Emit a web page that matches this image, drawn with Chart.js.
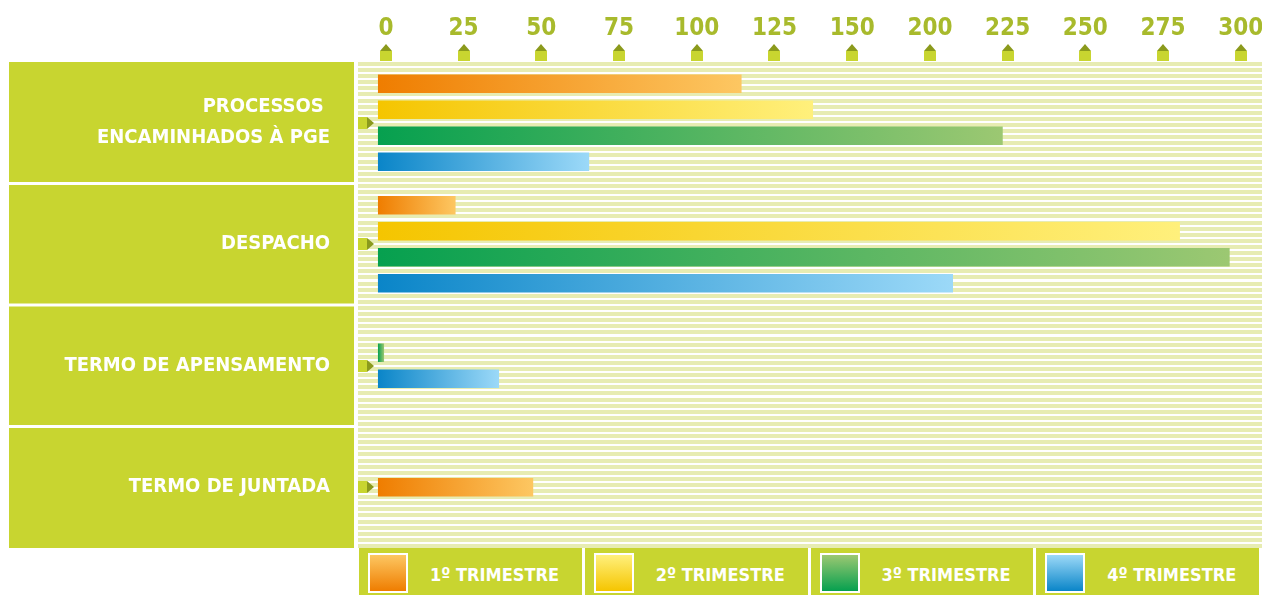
<!DOCTYPE html>
<html lang="pt">
<head>
<meta charset="utf-8">
<title>Processos por trimestre</title>
<script src="https://cdn.jsdelivr.net/npm/chart.js@4.4.0/dist/chart.umd.min.js"></script>
<style>
    html, body { margin: 0; padding: 0; background: #fff; overflow: hidden; }
    body {
        width: 1262px;
        height: 595px;
        position: relative;
        font-family: 'DejaVu Sans Condensed', 'DejaVu Sans', sans-serif;
    }
    #trimestreChart { position: absolute; left: 0; top: 0; display: block; }
    .legend {
        position: absolute;
        left: 359px;
        top: 548px;
        width: 900px;
        height: 47px;
        display: flex;
        gap: 3px;
    }
    .legend-item {
        flex: 1;
        background: #c8d530;
        display: flex;
        align-items: center;
        white-space: nowrap;
    }
    .swatch {
        box-sizing: border-box;
        width: 40px;
        height: 40px;
        border: 2px solid #fff;
        margin-left: 9px;
        margin-top: 3px;
        flex: none;
    }
    .legend-label {
        margin-left: 22px;
        margin-top: 5px;
        color: #fff;
        font-weight: bold;
        font-size: 18px;
    }
</style>
</head>
<body>
<canvas id="trimestreChart" width="1262" height="548"></canvas>
<div class="legend" id="legend"></div>

<script>
// --- data ---
const categories = [['PROCESSOS ', 'ENCAMINHADOS À PGE'], 'DESPACHO', 'TERMO DE APENSAMENTO', 'TERMO DE JUNTADA'];
const seriesNames = ['1º TRIMESTRE', '2º TRIMESTRE', '3º TRIMESTRE', '4º TRIMESTRE'];
const q1Values = [117, 25, null, 50];
const q2Values = [140, 258, null, null];
const q3Values = [201, 274, 2, null];
const q4Values = [68, 185, 39, null];
// the original axis skips 175
const tickLabels = ['0', '25', '50', '75', '100', '125', '150', '200', '225', '250', '275', '300'];
const TICK_STEP = 25;

// --- styling ---
const FONT = "'DejaVu Sans Condensed', 'DejaVu Sans', sans-serif";
const PANEL_COLOR = '#c8d530';
const MARKER_DARK = '#8b9a1c';
const STRIPE_COLOR = '#e7ecb2';
const TICK_COLOR = '#a8ba2c';
const LABEL_SHIFT = 8; // tick labels sit a little right of the bar origin
const seriesColors = [
    ['#ef7d00', '#fdc762'],
    ['#f5c500', '#fff07c'],
    ['#06a04f', '#9cc872'],
    ['#0a85c8', '#9cd9f8']
];
const seriesValues = [q1Values, q2Values, q3Values, q4Values];

/**
 * Horizontal gradient spanning each bar from its base to its end.
 */
function barGradient(colors) {
    return (ctx) => {
        const chart = ctx.chart;
        const xScale = chart.scales.x;
        if (!chart.chartArea || !xScale || ctx.raw == null) return colors[0];
        const x0 = xScale.getPixelForValue(0);
        const x1 = Math.max(xScale.getPixelForValue(ctx.raw), x0 + 1);
        const g = chart.ctx.createLinearGradient(x0, 0, x1, 0);
        g.addColorStop(0, colors[0]);
        g.addColorStop(1, colors[1]);
        return g;
    };
}

/**
 * Fixed axis box size, without the extra room Chart.js keeps for edge labels.
 */
function fixBox(prop, size) {
    return (scale) => {
        scale[prop] = size;
        scale.paddingLeft = scale.paddingRight = 0;
        scale.paddingTop = scale.paddingBottom = 0;
    };
}

/**
 * Label panels, striped plot background and the little axis markers.
 */
const decorPlugin = {
    id: 'decor',
    beforeDraw(chart) {
        const { ctx, chartArea, scales: { x, y } } = chart;
        const band = chartArea.height / categories.length;
        ctx.save();

        // left label panels
        ctx.fillStyle = PANEL_COLOR;
        categories.forEach((_, i) => {
            const c = y.getPixelForValue(i);
            const top = i === 0 ? chartArea.top : c - band / 2 + 1.5;
            const bottom = i === categories.length - 1 ? chartArea.bottom : c + band / 2 - 1.5;
            ctx.fillRect(9, top, 345, bottom - top);
        });

        // stripes
        ctx.fillStyle = STRIPE_COLOR;
        for (let yy = chartArea.top; yy < chartArea.bottom - 2; yy += 6.1) {
            ctx.fillRect(chartArea.left, Math.round(yy), chartArea.width, 4);
        }

        // top tick markers
        x.ticks.forEach(t => {
            const px = Math.round(x.getPixelForValue(t.value)) + LABEL_SHIFT;
            const base = chartArea.top - 1;
            ctx.fillStyle = PANEL_COLOR;
            ctx.fillRect(px - 6, base - 10, 12, 10);
            ctx.fillStyle = MARKER_DARK;
            ctx.beginPath();
            ctx.moveTo(px - 6, base - 10);
            ctx.lineTo(px, base - 17);
            ctx.lineTo(px + 6, base - 10);
            ctx.closePath();
            ctx.fill();
        });

        // left category arrows
        categories.forEach((_, i) => {
            const c = Math.round(y.getPixelForValue(i));
            const left = chartArea.left;
            ctx.fillStyle = PANEL_COLOR;
            ctx.fillRect(left, c - 6, 9, 12);
            ctx.fillStyle = MARKER_DARK;
            ctx.beginPath();
            ctx.moveTo(left + 9, c - 6);
            ctx.lineTo(left + 16, c);
            ctx.lineTo(left + 9, c + 6);
            ctx.closePath();
            ctx.fill();
        });

        ctx.restore();
    }
};

const datasets = seriesNames.map((name, i) => ({
    label: name,
    data: seriesValues[i],
    backgroundColor: barGradient(seriesColors[i]),
    borderColor: 'rgba(0,0,0,0)',
    borderWidth: { top: 4, bottom: 4, left: 0, right: 0 },
    borderSkipped: false,
    barThickness: 26,
    skipNull: true
}));

new Chart(document.getElementById('trimestreChart'), {
    type: 'bar',
    data: { labels: categories, datasets },
    plugins: [decorPlugin],
    options: {
        indexAxis: 'y',
        responsive: false,
        animation: false,
        layout: { padding: 0 },
        scales: {
            x: {
                position: 'top',
                min: -6.4,
                max: 284.4,
                grid: { display: false, drawTicks: false },
                border: { display: false },
                afterBuildTicks: (scale) => {
                    scale.ticks = tickLabels.map((_, i) => ({ value: i * TICK_STEP }));
                },
                afterFit: fixBox('height', 62),
                ticks: {
                    autoSkip: false,
                    maxRotation: 0,
                    padding: 19,
                    labelOffset: LABEL_SHIFT,
                    color: TICK_COLOR,
                    font: { family: FONT, size: 24, weight: 'bold' },
                    callback: (value, index) => tickLabels[index]
                }
            },
            y: {
                grid: { display: false, drawTicks: false },
                border: { display: false },
                afterFit: fixBox('width', 358),
                ticks: {
                    autoSkip: false,
                    padding: 28,
                    color: '#ffffff',
                    font: { family: FONT, size: 20, weight: 'bold', lineHeight: 1.55 }
                }
            }
        },
        plugins: {
            legend: { display: false },
            tooltip: { enabled: true }
        }
    }
});

// HTML legend built from the same series arrays
document.getElementById('legend').innerHTML = seriesNames.map((name, i) => `
    <div class="legend-item">
        <div class="swatch" style="background: linear-gradient(to bottom, ${seriesColors[i][1]}, ${seriesColors[i][0]});"></div>
        <span class="legend-label">${name}</span>
    </div>`).join('');
</script>
</body>
</html>
